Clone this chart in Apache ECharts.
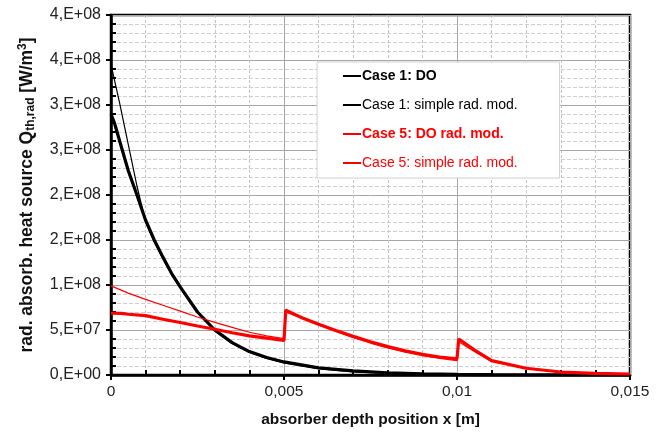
<!DOCTYPE html>
<html>
<head>
<meta charset="utf-8">
<script src="https://cdn.jsdelivr.net/npm/echarts@6/dist/echarts.min.js"></script>
<style>
html,body{margin:0;padding:0;background:#fff;}
#chart{width:667px;height:433px;}
</style>
</head>
<body>
<div id="chart"></div>
<script>
// ---- data ----
const seriesNames = ['Case 1: DO', 'Case 1: simple rad. mod.', 'Case 5: DO rad. mod.', 'Case 5: simple rad. mod.'];

const case1DO_x = [0, 0.0001, 0.00025, 0.0005, 0.00075, 0.001, 0.00125, 0.0015, 0.00175, 0.002, 0.0025, 0.003, 0.0035, 0.004, 0.0045, 0.005, 0.006, 0.007, 0.008, 0.009, 0.01, 0.011, 0.012, 0.013, 0.014, 0.015];
const case1DO_y = [2.9e8, 2.8e8, 2.6e8, 2.27e8, 2.0e8, 1.72e8, 1.5e8, 1.31e8, 1.13e8, 9.8e7, 7.0e7, 5.0e7, 3.6e7, 2.6e7, 1.95e7, 1.45e7, 8e6, 4.5e6, 2.5e6, 1.4e6, 8e5, 5e5, 3e5, 2e5, 1e5, 1e5];

const case1Simple_x = [0, 0.00025, 0.0005, 0.00075, 0.001, 0.00125, 0.0015, 0.00175, 0.002, 0.0025, 0.003, 0.0035, 0.004, 0.0045, 0.005, 0.006, 0.007, 0.008, 0.009, 0.01, 0.011, 0.012, 0.013, 0.014, 0.015];
const case1Simple_y = [3.45e8, 3.02e8, 2.56e8, 2.1e8, 1.7e8, 1.48e8, 1.29e8, 1.12e8, 9.7e7, 6.9e7, 4.9e7, 3.5e7, 2.5e7, 1.85e7, 1.35e7, 7e6, 3.5e6, 1.8e6, 9e5, 5e5, 3e5, 2e5, 1e5, 1e5, 1e5];

const case5DO_x = [0, 0.0003, 0.0005, 0.001, 0.0015, 0.002, 0.0025, 0.003, 0.0035, 0.004, 0.0045, 0.005, 0.00505, 0.0055, 0.006, 0.0065, 0.007, 0.0075, 0.008, 0.0085, 0.009, 0.0095, 0.01, 0.01005, 0.0105, 0.011, 0.012, 0.013, 0.014, 0.015];
const case5DO_y = [6.86e7, 6.85e7, 6.75e7, 6.6e7, 6.2e7, 5.83e7, 5.45e7, 5.08e7, 4.7e7, 4.35e7, 4.1e7, 3.85e7, 7.2e7, 6.4e7, 5.65e7, 4.95e7, 4.3e7, 3.7e7, 3.15e7, 2.7e7, 2.3e7, 2.0e7, 1.8e7, 4.0e7, 2.8e7, 1.6e7, 7.5e6, 3.3e6, 1.7e6, 1.1e6];

const case5Simple_x = [0, 0.0005, 0.001, 0.0015, 0.002, 0.0025, 0.003, 0.0035, 0.004, 0.0045, 0.005, 0.00505, 0.0055, 0.006, 0.0065, 0.007, 0.0075, 0.008, 0.0085, 0.009, 0.0095, 0.01, 0.01005, 0.0105, 0.011, 0.012, 0.013, 0.014, 0.015];
const case5Simple_y = [9.9e7, 9.1e7, 8.4e7, 7.75e7, 7.1e7, 6.45e7, 5.85e7, 5.3e7, 4.75e7, 4.35e7, 4.05e7, 7.0e7, 6.3e7, 5.55e7, 4.85e7, 4.15e7, 3.55e7, 3.0e7, 2.55e7, 2.15e7, 1.85e7, 1.6e7, 3.7e7, 2.6e7, 1.5e7, 7e6, 3.1e6, 1.6e6, 1.0e6];

const yTickLabels = ['0,E+00', '5,E+07', '1,E+08', '2,E+08', '2,E+08', '3,E+08', '3,E+08', '4,E+08', '4,E+08'];
const xTickLabels = ['0', '0,005', '0,01', '0,015'];

// ---- chart ----
const zip = (xs, ys) => xs.map((x, i) => [x, ys[i]]);
const chart = echarts.init(document.getElementById('chart'), null, {renderer: 'canvas'});
const FONT = 'Liberation Sans, Arial, sans-serif';

const gridCfg = {left: 111, right: 37, top: 15, bottom: 58, show: true, borderColor: '#000', borderWidth: 2.5, backgroundColor: 'transparent'};

const xBase = {type: 'value', min: 0, max: 0.015, interval: 0.005};
const yBase = {type: 'value', min: 0, max: 4e8, interval: 5e7};

chart.setOption({
  animation: false,
  backgroundColor: '#fff',
  grid: gridCfg,
  xAxis: [
    Object.assign({}, xBase, {
      position: 'bottom',
      axisLine: {show: true, onZero: false, lineStyle: {color: '#000', width: 2.5}},
      axisTick: {show: true, inside: false, length: 5, lineStyle: {color: '#000', width: 2}},
      minorTick: {show: false},
      axisLabel: {color: '#222', fontFamily: FONT, fontSize: 15.5, margin: 9,
        formatter: v => xTickLabels[Math.round(v / 0.005)]},
      splitLine: {show: true, lineStyle: {color: '#a6a6a6', width: 1}},
      minorSplitLine: {show: true, lineStyle: {color: '#c4c4c4', width: 1, type: [3, 2]}},
      name: 'absorber depth position x [m]',
      nameLocation: 'middle', nameGap: 37,
      nameTextStyle: {fontFamily: FONT, fontWeight: 'bold', fontSize: 15.5, color: '#111'}
    }),
    Object.assign({}, xBase, {
      position: 'bottom',
      axisLine: {show: false},
      axisTick: {show: false},
      minorTick: {show: true, splitNumber: 5, length: -5, lineStyle: {color: '#000', width: 2}},
      axisLabel: {show: false},
      splitLine: {show: false}
    })
  ],
  yAxis: [
    Object.assign({}, yBase, {
      position: 'left',
      axisLine: {show: true, onZero: false, lineStyle: {color: '#000', width: 2.5}},
      axisTick: {show: true, inside: false, length: 5, lineStyle: {color: '#000', width: 2}},
      minorTick: {show: true, splitNumber: 5, length: -5, lineStyle: {color: '#000', width: 2}},
      axisLabel: {color: '#222', fontFamily: FONT, fontSize: 16, margin: 10,
        formatter: v => yTickLabels[Math.round(v / 5e7)]},
      splitLine: {show: true, lineStyle: {color: '#a6a6a6', width: 1}},
      minorSplitLine: {show: true, lineStyle: {color: '#cfcfcf', width: 1, type: [4, 2]}},
      name: 'rad. absorb. heat source Q{sub|th,rad} [W/m{sup|3}]',
      nameLocation: 'middle', nameGap: 74,
      nameTextStyle: {fontFamily: FONT, fontWeight: 'bold', fontSize: 17.5, color: '#111',
        rich: {
          sub: {fontFamily: FONT, fontWeight: 'bold', fontSize: 12, color: '#111', verticalAlign: 'bottom', padding: [8, 0, 0, 0]},
          sup: {fontFamily: FONT, fontWeight: 'bold', fontSize: 12, color: '#111', verticalAlign: 'top', padding: [0, 0, 8, 0]}
        }}
    })
  ],
  legend: {
    orient: 'vertical',
    left: 317, top: 62,
    padding: [7, 42, 8, 25],
    itemWidth: 18, itemHeight: 14, itemGap: 15,
    backgroundColor: '#fff',
    borderColor: '#d0d0d0', borderWidth: 1,
    itemStyle: {opacity: 0},
    textStyle: {fontFamily: FONT, fontSize: 14, padding: [0, 0, 0, -4]},
    data: [
      {name: seriesNames[0], textStyle: {color: '#000', fontWeight: 'bold'}},
      {name: seriesNames[1], textStyle: {color: '#000'}},
      {name: seriesNames[2], textStyle: {color: '#ff0000', fontWeight: 'bold'}},
      {name: seriesNames[3], textStyle: {color: '#ff0000'}}
    ]
  },
  series: [
    {name: seriesNames[0], type: 'line', data: zip(case1DO_x, case1DO_y), symbol: 'none', showSymbol: false,
      lineStyle: {color: '#000', width: 3.2}, itemStyle: {color: '#000'}, z: 3},
    {name: seriesNames[1], type: 'line', data: zip(case1Simple_x, case1Simple_y), symbol: 'none', showSymbol: false,
      lineStyle: {color: '#000', width: 1.2}, itemStyle: {color: '#000'}, z: 4},
    {name: seriesNames[2], type: 'line', data: zip(case5DO_x, case5DO_y), symbol: 'none', showSymbol: false,
      lineStyle: {color: '#ff0000', width: 3.2}, itemStyle: {color: '#ff0000'}, z: 5},
    {name: seriesNames[3], type: 'line', data: zip(case5Simple_x, case5Simple_y), symbol: 'none', showSymbol: false,
      lineStyle: {color: '#ff0000', width: 1.2}, itemStyle: {color: '#ff0000'}, z: 6}
  ]
});
</script>
</body>
</html>
